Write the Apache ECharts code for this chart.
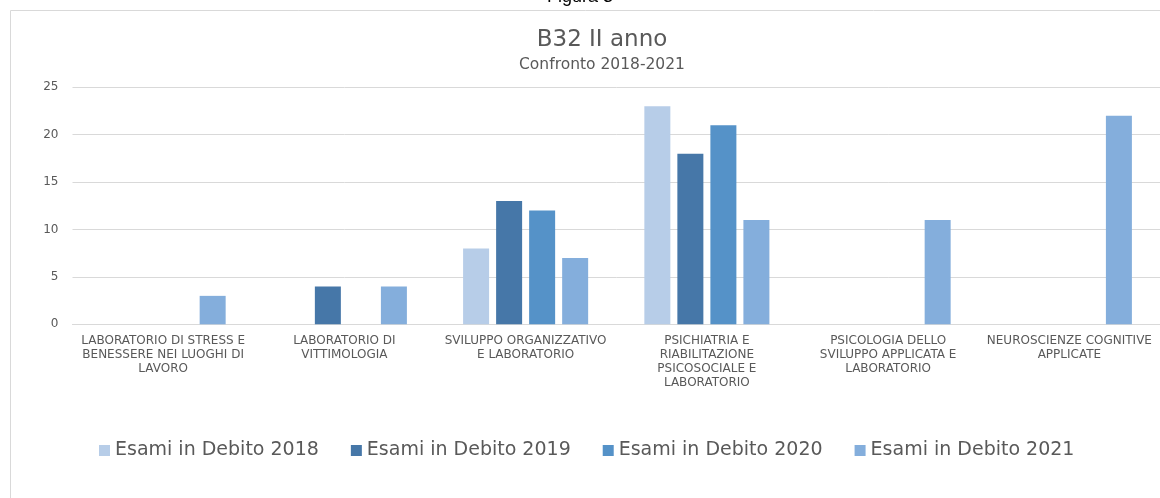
<!DOCTYPE html>
<html>
<head>
<meta charset="utf-8">
<script src="https://cdn.jsdelivr.net/npm/echarts@6/dist/echarts.min.js"></script>
<style>
  html, body { margin: 0; padding: 0; background: #fff; overflow: hidden; }
  #main { width: 1160px; height: 498px; }
</style>
</head>
<body>
<div id="main"></div>
<script>
var categories = [
  'LABORATORIO DI STRESS E\nBENESSERE NEI LUOGHI DI\nLAVORO',
  'LABORATORIO DI\nVITTIMOLOGIA',
  'SVILUPPO ORGANIZZATIVO\nE LABORATORIO',
  'PSICHIATRIA E\nRIABILITAZIONE\nPSICOSOCIALE E\nLABORATORIO',
  'PSICOLOGIA DELLO\nSVILUPPO APPLICATA E\nLABORATORIO',
  'NEUROSCIENZE COGNITIVE\nAPPLICATE'
];
var seriesNames = ['Esami in Debito 2018', 'Esami in Debito 2019', 'Esami in Debito 2020', 'Esami in Debito 2021'];
var debito2018 = [null, null, 8, 23, null, null];
var debito2019 = [null, 4, 13, 18, null, null];
var debito2020 = [null, null, 12, 21, null, null];
var debito2021 = [3, 4, 7, 11, 11, 22];
var colors = ['#B7CDE8', '#4677A8', '#5592C8', '#84AEDC'];

var chartDom = document.getElementById('main');
var myChart = echarts.init(chartDom, null, { renderer: 'canvas' });

var fontFam = '"DejaVu Sans", "Noto Sans", sans-serif';
var values = [debito2018, debito2019, debito2020, debito2021];

var series = seriesNames.map(function (name, i) {
  return {
    name: name,
    type: 'bar',
    data: values[i],
    barWidth: 26,
    barGap: '27%',
    itemStyle: { color: colors[i] }
  };
});

var option = {
  animation: false,
  color: colors,
  graphic: [
    {
      type: 'rect',
      silent: true,
      shape: { x: 10.5, y: 10.5, width: 1400, height: 700 },
      style: { fill: 'none', stroke: '#d9d9d9', lineWidth: 1 }
    },
    {
      type: 'text',
      silent: true,
      style: {
        x: 580, y: 6,
        text: 'Figura 3',
        fill: '#000',
        font: '18px "Liberation Sans", Arial, sans-serif',
        textAlign: 'center',
        textVerticalAlign: 'bottom'
      }
    }
  ],
  title: {
    text: 'B32 II anno',
    subtext: 'Confronto 2018-2021',
    left: 597,
    textAlign: 'center',
    top: 24,
    itemGap: 5,
    textStyle: { fontFamily: fontFam, fontSize: 23, fontWeight: 'normal', color: '#595959' },
    subtextStyle: { fontFamily: fontFam, fontSize: 15.5, color: '#595959' }
  },
  legend: {
    data: seriesNames,
    left: 94,
    top: 436,
    icon: 'rect',
    itemWidth: 11,
    itemHeight: 11,
    itemGap: 32,
    textStyle: { fontFamily: fontFam, fontSize: 19, color: '#595959' }
  },
  grid: {
    left: 72.5,
    right: -4,
    top: 87.3,
    bottom: 173.7
  },
  xAxis: {
    type: 'category',
    data: categories,
    axisTick: { show: false },
    axisLine: { lineStyle: { color: '#d9d9d9', width: 1 } },
    axisLabel: {
      interval: 0,
      margin: 10,
      fontFamily: fontFam,
      fontSize: 12,
      lineHeight: 14,
      color: '#595959',
      align: 'center'
    }
  },
  yAxis: {
    type: 'value',
    min: 0,
    max: 25,
    interval: 5,
    axisLine: { show: false },
    axisTick: { show: false },
    splitLine: { lineStyle: { color: '#d9d9d9', width: 1 } },
    axisLabel: { margin: 14, fontFamily: fontFam, fontSize: 12, color: '#595959' }
  },
  series: series
};

option && myChart.setOption(option);
</script>
</body>
</html>
